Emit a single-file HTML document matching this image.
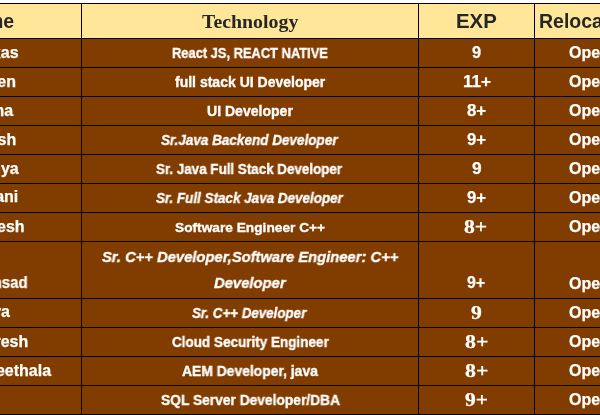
<!DOCTYPE html>
<html><head><meta charset="utf-8"><style>
html,body{margin:0;padding:0;}
span{will-change:transform;}
body{width:600px;height:415px;overflow:hidden;position:relative;background:#fff;font-family:"Liberation Sans",sans-serif;}
</style></head><body>
<div style="position:absolute;left:0;top:4px;width:600px;height:34px;background:#FFE699"></div>
<div style="position:absolute;left:0;top:39px;width:600px;height:375px;background:#813C00"></div>
<div style="position:absolute;left:0;top:3px;width:600px;height:1px;background:#000"></div>
<div style="position:absolute;left:0;top:38px;width:600px;height:1px;background:#000"></div>
<div style="position:absolute;left:0;top:67px;width:600px;height:1px;background:#000"></div>
<div style="position:absolute;left:0;top:96px;width:600px;height:1px;background:#000"></div>
<div style="position:absolute;left:0;top:125px;width:600px;height:1px;background:#000"></div>
<div style="position:absolute;left:0;top:154px;width:600px;height:1px;background:#000"></div>
<div style="position:absolute;left:0;top:183px;width:600px;height:1px;background:#000"></div>
<div style="position:absolute;left:0;top:212px;width:600px;height:1px;background:#000"></div>
<div style="position:absolute;left:0;top:241px;width:600px;height:1px;background:#000"></div>
<div style="position:absolute;left:0;top:298px;width:600px;height:1px;background:#000"></div>
<div style="position:absolute;left:0;top:327px;width:600px;height:1px;background:#000"></div>
<div style="position:absolute;left:0;top:356px;width:600px;height:1px;background:#000"></div>
<div style="position:absolute;left:0;top:385px;width:600px;height:1px;background:#000"></div>
<div style="position:absolute;left:0;top:414px;width:600px;height:1px;background:#000"></div>
<div style="position:absolute;left:81px;top:3px;width:1px;height:412px;background:#000"></div>
<div style="position:absolute;left:418px;top:3px;width:1px;height:412px;background:#000"></div>
<div style="position:absolute;left:534px;top:3px;width:1px;height:412px;background:#000"></div>
<span style="position:absolute;left:-39.51px;top:11.60px;white-space:nowrap;color:#262626;font-family:'Liberation Sans', sans-serif;font-weight:bold;font-style:normal;font-size:19.5px;line-height:19.5px;">Name</span>
<span style="position:absolute;left:202.35px;top:11.60px;white-space:nowrap;color:#262626;font-family:'Liberation Serif', serif;font-weight:bold;font-style:normal;font-size:19.5px;line-height:19.5px;transform:scaleX(1.0180);transform-origin:0 0;">Technology</span>
<span style="position:absolute;left:455.95px;top:11.70px;white-space:nowrap;color:#262626;font-family:'Liberation Sans', sans-serif;font-weight:bold;font-style:normal;font-size:19.5px;line-height:19.5px;transform:scaleX(1.0447);transform-origin:0 0;">EXP</span>
<span style="position:absolute;left:538.57px;top:11.70px;white-space:nowrap;color:#262626;font-family:'Liberation Sans', sans-serif;font-weight:bold;font-style:normal;font-size:19.5px;line-height:19.5px;">Relocation</span>
<span style="position:absolute;left:-23.10px;top:45.00px;white-space:nowrap;color:#ffffff;font-family:'Liberation Sans', sans-serif;font-weight:bold;font-style:normal;font-size:16px;line-height:16px;-webkit-text-stroke:0.25px #fff;">Vikas</span>
<span style="position:absolute;left:-40.62px;top:74.00px;white-space:nowrap;color:#ffffff;font-family:'Liberation Sans', sans-serif;font-weight:bold;font-style:normal;font-size:16px;line-height:16px;-webkit-text-stroke:0.25px #fff;">Naveen</span>
<span style="position:absolute;left:-49.39px;top:103.00px;white-space:nowrap;color:#ffffff;font-family:'Liberation Sans', sans-serif;font-weight:bold;font-style:normal;font-size:16px;line-height:16px;-webkit-text-stroke:0.25px #fff;">Sushma</span>
<span style="position:absolute;left:-46.51px;top:132.00px;white-space:nowrap;color:#ffffff;font-family:'Liberation Sans', sans-serif;font-weight:bold;font-style:normal;font-size:16px;line-height:16px;-webkit-text-stroke:0.25px #fff;">Ramesh</span>
<span style="position:absolute;left:-47.92px;top:161.00px;white-space:nowrap;color:#ffffff;font-family:'Liberation Sans', sans-serif;font-weight:bold;font-style:normal;font-size:16px;line-height:16px;-webkit-text-stroke:0.25px #fff;">Anasuya</span>
<span style="position:absolute;left:-44.26px;top:189.00px;white-space:nowrap;color:#ffffff;font-family:'Liberation Sans', sans-serif;font-weight:bold;font-style:normal;font-size:16px;line-height:16px;-webkit-text-stroke:0.25px #fff;">Bhavani</span>
<span style="position:absolute;left:-34.99px;top:219.00px;white-space:nowrap;color:#ffffff;font-family:'Liberation Sans', sans-serif;font-weight:bold;font-style:normal;font-size:16px;line-height:16px;-webkit-text-stroke:0.25px #fff;">Mahesh</span>
<span style="position:absolute;left:-20.81px;top:274.50px;white-space:nowrap;color:#ffffff;font-family:'Liberation Sans', sans-serif;font-weight:bold;font-style:normal;font-size:16px;line-height:16px;transform:scaleX(0.9300);transform-origin:0 0;-webkit-text-stroke:0.25px #fff;">Vinsad</span>
<span style="position:absolute;left:-62.91px;top:304.00px;white-space:nowrap;color:#ffffff;font-family:'Liberation Sans', sans-serif;font-weight:bold;font-style:normal;font-size:16px;line-height:16px;-webkit-text-stroke:0.25px #fff;">Bhargava</span>
<span style="position:absolute;left:-25.69px;top:334.00px;white-space:nowrap;color:#ffffff;font-family:'Liberation Sans', sans-serif;font-weight:bold;font-style:normal;font-size:16px;line-height:16px;-webkit-text-stroke:0.25px #fff;">Suresh</span>
<span style="position:absolute;left:-44.63px;top:363.00px;white-space:nowrap;color:#ffffff;font-family:'Liberation Sans', sans-serif;font-weight:bold;font-style:normal;font-size:16px;line-height:16px;-webkit-text-stroke:0.25px #fff;">Sai Geethala</span>
<span style="position:absolute;left:172.01px;top:45.72px;white-space:nowrap;color:#ffffff;font-family:'Liberation Sans', sans-serif;font-weight:bold;font-style:normal;font-size:14px;line-height:14px;transform:scaleX(0.9204);transform-origin:0 0;-webkit-text-stroke:0.35px #fff;">React JS, REACT NATIVE</span>
<span style="position:absolute;left:174.59px;top:74.52px;white-space:nowrap;color:#ffffff;font-family:'Liberation Sans', sans-serif;font-weight:bold;font-style:normal;font-size:14px;line-height:14px;transform:scaleX(1.0010);transform-origin:0 0;-webkit-text-stroke:0.35px #fff;">full stack UI Developer</span>
<span style="position:absolute;left:207.32px;top:103.62px;white-space:nowrap;color:#ffffff;font-family:'Liberation Sans', sans-serif;font-weight:bold;font-style:normal;font-size:14px;line-height:14px;transform:scaleX(1.0036);transform-origin:0 0;-webkit-text-stroke:0.35px #fff;">UI Developer</span>
<span style="position:absolute;left:160.94px;top:132.50px;white-space:nowrap;color:#ffffff;font-family:'Liberation Sans', sans-serif;font-weight:bold;font-style:italic;font-size:14px;line-height:14px;transform:scaleX(0.9653);transform-origin:0 0;-webkit-text-stroke:0.35px #fff;">Sr.Java Backend Developer</span>
<span style="position:absolute;left:156.45px;top:161.52px;white-space:nowrap;color:#ffffff;font-family:'Liberation Sans', sans-serif;font-weight:bold;font-style:normal;font-size:14px;line-height:14px;transform:scaleX(0.9563);transform-origin:0 0;-webkit-text-stroke:0.35px #fff;">Sr. Java Full Stack Developer</span>
<span style="position:absolute;left:155.94px;top:190.90px;white-space:nowrap;color:#ffffff;font-family:'Liberation Sans', sans-serif;font-weight:bold;font-style:italic;font-size:14px;line-height:14px;transform:scaleX(0.9606);transform-origin:0 0;-webkit-text-stroke:0.35px #fff;">Sr. Full Stack Java Developer</span>
<span style="position:absolute;left:174.57px;top:220.65px;white-space:nowrap;color:#ffffff;font-family:'Liberation Sans', sans-serif;font-weight:bold;font-style:normal;font-size:13.5px;line-height:13.5px;transform:scaleX(1.0158);transform-origin:0 0;-webkit-text-stroke:0.35px #fff;">Software Engineer C++</span>
<span style="position:absolute;left:101.50px;top:249.00px;white-space:nowrap;color:#ffffff;font-family:'Liberation Sans', sans-serif;font-weight:bold;font-style:italic;font-size:15.5px;line-height:15.5px;transform:scaleX(0.9530);transform-origin:0 0;-webkit-text-stroke:0.35px #fff;">Sr. C++ Developer,Software Engineer: C++</span>
<span style="position:absolute;left:213.52px;top:274.90px;white-space:nowrap;color:#ffffff;font-family:'Liberation Sans', sans-serif;font-weight:bold;font-style:italic;font-size:15.5px;line-height:15.5px;transform:scaleX(0.9554);transform-origin:0 0;-webkit-text-stroke:0.35px #fff;">Developer</span>
<span style="position:absolute;left:191.51px;top:306.00px;white-space:nowrap;color:#ffffff;font-family:'Liberation Sans', sans-serif;font-weight:bold;font-style:italic;font-size:14px;line-height:14px;transform:scaleX(0.9531);transform-origin:0 0;-webkit-text-stroke:0.35px #fff;">Sr. C++ Developer</span>
<span style="position:absolute;left:171.75px;top:335.32px;white-space:nowrap;color:#ffffff;font-family:'Liberation Sans', sans-serif;font-weight:bold;font-style:normal;font-size:14px;line-height:14px;transform:scaleX(0.9639);transform-origin:0 0;-webkit-text-stroke:0.35px #fff;">Cloud Security Engineer</span>
<span style="position:absolute;left:182.30px;top:363.72px;white-space:nowrap;color:#ffffff;font-family:'Liberation Sans', sans-serif;font-weight:bold;font-style:normal;font-size:14px;line-height:14px;transform:scaleX(0.9913);transform-origin:0 0;-webkit-text-stroke:0.35px #fff;">AEM Developer, java</span>
<span style="position:absolute;left:160.76px;top:393.02px;white-space:nowrap;color:#ffffff;font-family:'Liberation Sans', sans-serif;font-weight:bold;font-style:normal;font-size:14px;line-height:14px;transform:scaleX(0.9847);transform-origin:0 0;-webkit-text-stroke:0.35px #fff;">SQL Server Developer/DBA</span>
<span style="position:absolute;left:471.54px;top:45.00px;white-space:nowrap;color:#ffffff;font-family:'Liberation Sans', sans-serif;font-weight:bold;font-style:normal;font-size:16px;line-height:16px;transform:scaleX(1.0242);transform-origin:0 0;-webkit-text-stroke:0.25px #fff;">9</span>
<span style="position:absolute;left:462.69px;top:74.00px;white-space:nowrap;color:#ffffff;font-family:'Liberation Sans', sans-serif;font-weight:bold;font-style:normal;font-size:16px;line-height:16px;transform:scaleX(1.0679);transform-origin:0 0;-webkit-text-stroke:0.25px #fff;">11+</span>
<span style="position:absolute;left:467.38px;top:103.00px;white-space:nowrap;color:#ffffff;font-family:'Liberation Sans', sans-serif;font-weight:bold;font-style:normal;font-size:16px;line-height:16px;transform:scaleX(1.0521);transform-origin:0 0;-webkit-text-stroke:0.25px #fff;">8+</span>
<span style="position:absolute;left:467.36px;top:132.00px;white-space:nowrap;color:#ffffff;font-family:'Liberation Sans', sans-serif;font-weight:bold;font-style:normal;font-size:16px;line-height:16px;transform:scaleX(1.0420);transform-origin:0 0;-webkit-text-stroke:0.25px #fff;">9+</span>
<span style="position:absolute;left:471.77px;top:161.00px;white-space:nowrap;color:#ffffff;font-family:'Liberation Sans', sans-serif;font-weight:bold;font-style:normal;font-size:16px;line-height:16px;transform:scaleX(1.0864);transform-origin:0 0;-webkit-text-stroke:0.25px #fff;">9</span>
<span style="position:absolute;left:467.36px;top:190.00px;white-space:nowrap;color:#ffffff;font-family:'Liberation Sans', sans-serif;font-weight:bold;font-style:normal;font-size:16px;line-height:16px;transform:scaleX(1.0420);transform-origin:0 0;-webkit-text-stroke:0.25px #fff;">9+</span>
<span style="position:absolute;left:464.47px;top:217.50px;white-space:nowrap;color:#ffffff;font-family:'Liberation Serif', serif;font-weight:bold;font-style:normal;font-size:18px;line-height:18px;transform:scaleX(1.2064);transform-origin:0 0;-webkit-text-stroke:0.25px #fff;">8+</span>
<span style="position:absolute;left:467.44px;top:275.30px;white-space:nowrap;color:#ffffff;font-family:'Liberation Sans', sans-serif;font-weight:bold;font-style:normal;font-size:16px;line-height:16px;transform:scaleX(0.9865);transform-origin:0 0;-webkit-text-stroke:0.25px #fff;">9+</span>
<span style="position:absolute;left:471.02px;top:303.50px;white-space:nowrap;color:#ffffff;font-family:'Liberation Serif', serif;font-weight:bold;font-style:normal;font-size:18px;line-height:18px;transform:scaleX(1.2031);transform-origin:0 0;-webkit-text-stroke:0.25px #fff;">9</span>
<span style="position:absolute;left:464.84px;top:333.00px;white-space:nowrap;color:#ffffff;font-family:'Liberation Serif', serif;font-weight:bold;font-style:normal;font-size:18px;line-height:18px;transform:scaleX(1.2113);transform-origin:0 0;-webkit-text-stroke:0.25px #fff;">8+</span>
<span style="position:absolute;left:464.84px;top:362.00px;white-space:nowrap;color:#ffffff;font-family:'Liberation Serif', serif;font-weight:bold;font-style:normal;font-size:18px;line-height:18px;transform:scaleX(1.2113);transform-origin:0 0;-webkit-text-stroke:0.25px #fff;">8+</span>
<span style="position:absolute;left:464.53px;top:391.00px;white-space:nowrap;color:#ffffff;font-family:'Liberation Serif', serif;font-weight:bold;font-style:normal;font-size:18px;line-height:18px;transform:scaleX(1.1903);transform-origin:0 0;-webkit-text-stroke:0.25px #fff;">9+</span>
<span style="position:absolute;left:569.44px;top:45.00px;white-space:nowrap;color:#ffffff;font-family:'Liberation Sans', sans-serif;font-weight:bold;font-style:normal;font-size:16px;line-height:16px;-webkit-text-stroke:0.25px #fff;">Open</span>
<span style="position:absolute;left:569.44px;top:74.00px;white-space:nowrap;color:#ffffff;font-family:'Liberation Sans', sans-serif;font-weight:bold;font-style:normal;font-size:16px;line-height:16px;-webkit-text-stroke:0.25px #fff;">Open</span>
<span style="position:absolute;left:569.44px;top:103.00px;white-space:nowrap;color:#ffffff;font-family:'Liberation Sans', sans-serif;font-weight:bold;font-style:normal;font-size:16px;line-height:16px;-webkit-text-stroke:0.25px #fff;">Open</span>
<span style="position:absolute;left:569.44px;top:132.00px;white-space:nowrap;color:#ffffff;font-family:'Liberation Sans', sans-serif;font-weight:bold;font-style:normal;font-size:16px;line-height:16px;-webkit-text-stroke:0.25px #fff;">Open</span>
<span style="position:absolute;left:569.44px;top:161.00px;white-space:nowrap;color:#ffffff;font-family:'Liberation Sans', sans-serif;font-weight:bold;font-style:normal;font-size:16px;line-height:16px;-webkit-text-stroke:0.25px #fff;">Open</span>
<span style="position:absolute;left:569.44px;top:190.00px;white-space:nowrap;color:#ffffff;font-family:'Liberation Sans', sans-serif;font-weight:bold;font-style:normal;font-size:16px;line-height:16px;-webkit-text-stroke:0.25px #fff;">Open</span>
<span style="position:absolute;left:569.44px;top:219.00px;white-space:nowrap;color:#ffffff;font-family:'Liberation Sans', sans-serif;font-weight:bold;font-style:normal;font-size:16px;line-height:16px;-webkit-text-stroke:0.25px #fff;">Open</span>
<span style="position:absolute;left:569.44px;top:275.50px;white-space:nowrap;color:#ffffff;font-family:'Liberation Sans', sans-serif;font-weight:bold;font-style:normal;font-size:16px;line-height:16px;-webkit-text-stroke:0.25px #fff;">Open</span>
<span style="position:absolute;left:569.44px;top:305.00px;white-space:nowrap;color:#ffffff;font-family:'Liberation Sans', sans-serif;font-weight:bold;font-style:normal;font-size:16px;line-height:16px;-webkit-text-stroke:0.25px #fff;">Open</span>
<span style="position:absolute;left:569.44px;top:333.50px;white-space:nowrap;color:#ffffff;font-family:'Liberation Sans', sans-serif;font-weight:bold;font-style:normal;font-size:16px;line-height:16px;-webkit-text-stroke:0.25px #fff;">Open</span>
<span style="position:absolute;left:569.44px;top:362.60px;white-space:nowrap;color:#ffffff;font-family:'Liberation Sans', sans-serif;font-weight:bold;font-style:normal;font-size:16px;line-height:16px;-webkit-text-stroke:0.25px #fff;">Open</span>
<span style="position:absolute;left:569.44px;top:391.70px;white-space:nowrap;color:#ffffff;font-family:'Liberation Sans', sans-serif;font-weight:bold;font-style:normal;font-size:16px;line-height:16px;-webkit-text-stroke:0.25px #fff;">Open</span>
</body></html>
